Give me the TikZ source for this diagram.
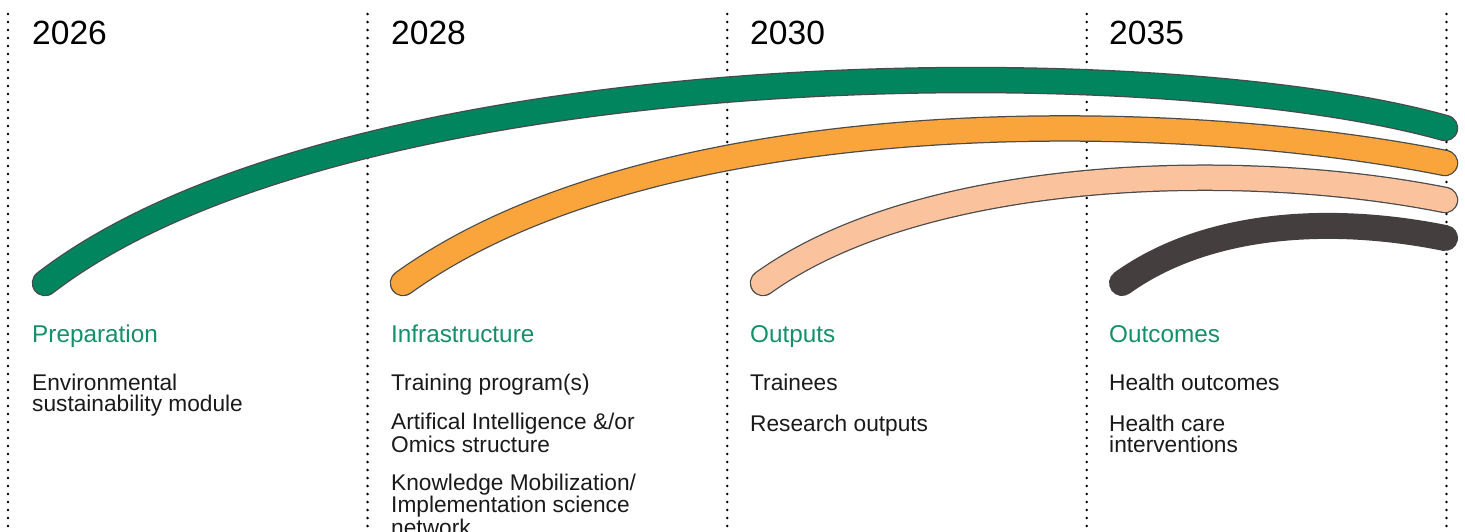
\documentclass[tikz,border=0pt]{standalone}
\usepackage{fontspec}
\setmainfont{Liberation Sans}
\definecolor{tlgreen}{HTML}{00855F}
\definecolor{tlorange}{HTML}{F9A53B}
\definecolor{tlpeach}{HTML}{FBC29E}
\definecolor{tldark}{HTML}{443F3E}
\definecolor{tledge}{HTML}{4A4A4A}
\definecolor{tltitle}{HTML}{13906A}
\definecolor{tltext}{HTML}{1A1A1A}
\begin{document}
\begin{tikzpicture}[x=1pt,y=-1pt,
  guide/.style={line width=2.8pt, dash pattern=on 0pt off 8pt, line cap=round, black},
  year/.style={anchor=base west, inner sep=0pt, font=\fontsize{33.6}{33.6}\selectfont, text=black},
  phase/.style={anchor=base west, inner sep=0pt, font=\fontsize{24.3}{24.3}\selectfont, text=tltitle},
  item/.style={anchor=base west, inner sep=0pt, align=left, font=\fontsize{22.7}{21}\selectfont, text=tltext},
  bandedge/.style={line width=26.5pt, line cap=round, draw=tledge},
  bandfill/.style={line width=24pt, line cap=round},
]
\useasboundingbox (0,0) rectangle (1465,531);
\clip (0,0) rectangle (1465,531);
% guides
\foreach \gx in {8,367.6,727.2,1086.8,1446.4}{
  \draw[guide] (\gx,14) -- (\gx,540);
}
% arcs
\coordinate (g0) at (45,283);  \coordinate (g1) at (1445,128);
\coordinate (o0) at (403,283); \coordinate (o1) at (1445,163);
\coordinate (p0) at (763,283); \coordinate (p1) at (1445,200);
\coordinate (d0) at (1122,283);\coordinate (d1) at (1445,238);
\draw[bandedge] (g0) .. controls (345,52) and (1152,46) .. (g1);
\draw[bandfill, draw=tlgreen] (g0) .. controls (345,52) and (1152,46) .. (g1);
\draw[bandedge] (o0) .. controls (653,103) and (1159,106) .. (o1);
\draw[bandfill, draw=tlorange] (o0) .. controls (653,103) and (1159,106) .. (o1);
\draw[bandedge] (p0) .. controls (923,168) and (1240,159) .. (p1);
\draw[bandfill, draw=tlpeach] (p0) .. controls (923,168) and (1240,159) .. (p1);
\draw[line width=26pt, line cap=round, draw=tldark] (d0) .. controls (1207,222) and (1331,215) .. (d1);
% years
\node[year] (y1) at (32,44) {2026};
\node[year] (y2) at (391,44) {2028};
\node[year] (y3) at (750,44) {2030};
\node[year] (y4) at (1109,44) {2035};
% phases
\node[phase] (h1) at (32,342) {Preparation};
\node[phase] (h2) at (391,342) {Infrastructure};
\node[phase] (h3) at (750,342) {Outputs};
\node[phase] (h4) at (1109,342) {Outcomes};
% items (base anchor = baseline of the last line)
\node[item] (a1) at (32,411) {Environmental\\sustainability module};
\node[item] (b1) at (391,390) {Training program(s)};
\node[item] (b2) at (391,452) {Artifical Intelligence \&/or\\Omics structure};
\node[item] (b3) at (391,535) {Knowledge Mobilization/\\Implementation science\\network};
\node[item] (c1) at (750,390) {Trainees};
\node[item] (c2) at (750,431) {Research outputs};
\node[item] (d1n) at (1109,390) {Health outcomes};
\node[item] (d2n) at (1109,452) {Health care\\interventions};
\end{tikzpicture}
\end{document}
